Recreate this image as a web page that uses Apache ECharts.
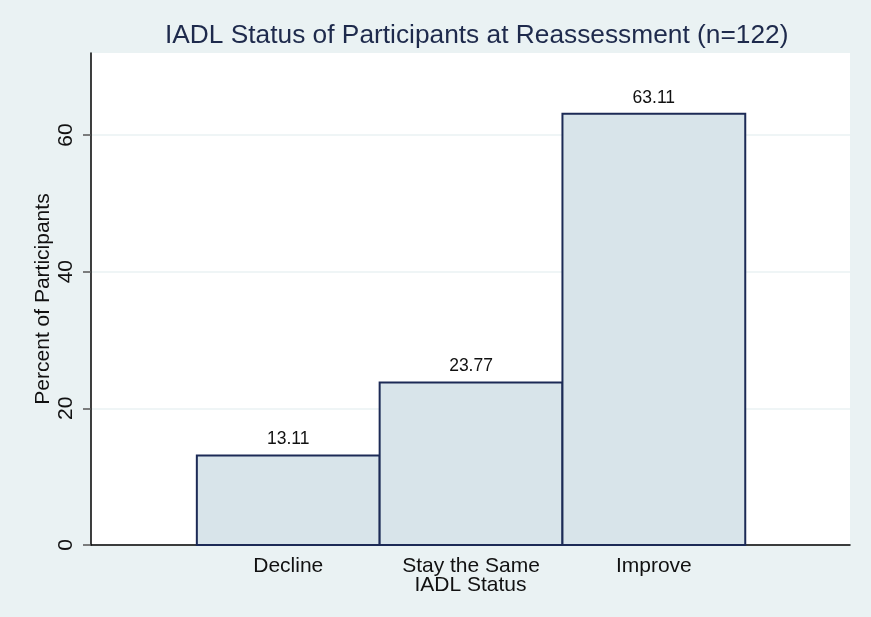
<!DOCTYPE html>
<html>
<head>
<meta charset="utf-8">
<script src="https://cdn.jsdelivr.net/npm/echarts@6/dist/echarts.min.js"></script>
<style>
html,body{margin:0;padding:0;background:#eaf2f3;}
#chart{width:871px;height:617px;}
</style>
</head>
<body>
<div id="chart"></div>
<script>
const categories = ['Decline', 'Stay the Same', 'Improve'];
const positions = [1, 2, 3];
const values = [13.11, 23.77, 63.11];
const yTicks = [0, 20, 40, 60];

const chart = echarts.init(document.getElementById('chart'));
const font = '"Liberation Sans", Arial, sans-serif';

chart.setOption({
  backgroundColor: '#eaf2f3',
  animation: false,
  title: {
    text: 'IADL Status of Participants at Reassessment (n=122)',
    left: 160,
    top: 18,
    textStyle: { fontFamily: font, fontSize: 26.3, fontWeight: 'normal', color: '#1e2a4c' }
  },
  grid: {
    left: 91, right: 21, top: 53, bottom: 72,
    show: true, backgroundColor: '#ffffff', borderWidth: 0
  },
  xAxis: {
    type: 'value',
    min: -0.079,
    max: 4.073,
    name: 'IADL Status',
    nameLocation: 'middle',
    nameGap: 30,
    nameMoveOverlap: false,
    nameTextStyle: { fontFamily: font, fontSize: 21, color: '#111' },
    axisLine: { show: true, onZero: false, lineStyle: { color: '#000', width: 1.5 } },
    axisTick: { show: false },
    splitLine: { show: false },
    axisLabel: {
      customValues: positions,
      formatter: function (v) {
        const i = positions.indexOf(Math.round(v));
        return i >= 0 ? categories[i] : '';
      },
      margin: 11,
      fontFamily: font, fontSize: 21, color: '#111'
    }
  },
  yAxis: {
    type: 'value',
    min: 0,
    max: 72,
    interval: 20,
    name: 'Percent of Participants',
    nameLocation: 'middle',
    nameGap: 37,
    nameMoveOverlap: false,
    nameTextStyle: { fontFamily: font, fontSize: 21, color: '#111' },
    axisLine: { show: true, onZero: false, lineStyle: { color: '#000', width: 1.5 } },
    axisTick: { show: true, length: 8, customValues: yTicks, lineStyle: { color: '#555', width: 1.5 } },
    axisLabel: {
      rotate: 90,
      margin: 14,
      fontFamily: font, fontSize: 21, color: '#111',
      customValues: yTicks
    },
    splitLine: { show: true, lineStyle: { color: '#eaf2f3', width: 1.5 } }
  },
  series: [{
    type: 'custom',
    data: positions.map((p, i) => [p, values[i]]),
    renderItem: function (params, api) {
      const x = api.value(0), y = api.value(1);
      const tl = api.coord([x - 0.5, y]);
      const br = api.coord([x + 0.5, 0]);
      return {
        type: 'group',
        children: [{
          type: 'rect',
          shape: { x: tl[0], y: tl[1], width: br[0] - tl[0], height: br[1] - tl[1] },
          style: { fill: '#d8e4ea', stroke: '#1c2a56', lineWidth: 2 }
        }, {
          type: 'text',
          style: {
            text: y.toFixed(2),
            x: (tl[0] + br[0]) / 2,
            y: tl[1] - 7,
            align: 'center',
            verticalAlign: 'bottom',
            fontFamily: font,
            fontSize: 17.5,
            fill: '#111'
          }
        }]
      };
    }
  }]
});
</script>
</body>
</html>
